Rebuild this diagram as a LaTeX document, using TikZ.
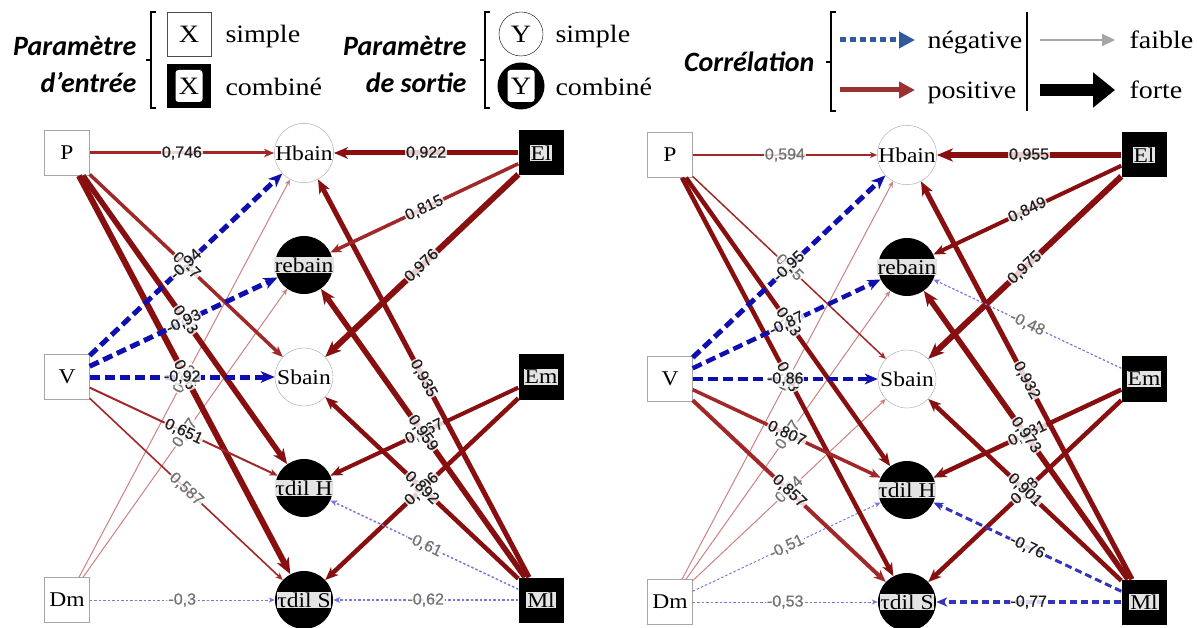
\documentclass[tikz,border=0pt]{standalone}
\usepackage{fontspec}
\setmainfont{Liberation Serif}[FakeStretch=1.12]
\newfontfamily\ttlfamily{Carlito}
\newfontfamily\labfamily{Liberation Sans}[FakeBold=0.6]
\usetikzlibrary{arrows.meta}
\pgfdeclarelayer{fg}
\pgfsetlayers{main,fg}
\definecolor{dred}{RGB}{135,15,15}
\definecolor{mred}{RGB}{160,40,40}
\definecolor{wred}{RGB}{205,130,130}
\definecolor{dblue}{RGB}{15,15,175}
\definecolor{wblue}{RGB}{120,120,225}
\definecolor{lgblue}{RGB}{50,90,155}
\definecolor{lgred}{RGB}{155,50,50}
\newcommand\nodefont{\fontsize{21}{23}\selectfont}
\newcommand\legfont{\fontsize{25}{28}\selectfont}
\newcommand\titfont{\ttlfamily\bfseries\itshape\fontsize{28}{30}\selectfont}
\newcommand\lblfont{\labfamily\fontsize{16}{16}\selectfont}
\tikzset{
 inb/.style={draw=gray!70, fill=white, minimum size=45pt, inner sep=0pt, font=\nodefont},
 inc/.style={fill=black, minimum size=45pt, inner sep=0pt},
 outs/.style={circle, draw=gray!70, fill=white, minimum size=58pt, inner sep=0pt, font=\nodefont},
 outc/.style={circle, fill=black, minimum size=58pt, inner sep=0pt},
 cl/.style={fill=gray!22, inner sep=0.8pt, font=\nodefont, text=black},
 arw/.style={-{Stealth[length=4pt 2, width=3.5pt 1.6, inset=1pt 0.6]}},
 pw/.style 2 args={draw=#2, line width=#1, arw},
 ps/.style={pw={#1}{dred}},
 pm/.style={pw={#1}{mred}},
 pl/.style={pw={#1}{wred}},
 nt/.style={draw=dblue, line width=#1, dash pattern=on 10pt off 5pt, arw},
 nm/.style={draw=dblue!85, line width=#1, dash pattern=on 7pt off 4pt, arw},
 nl/.style={draw=wblue, line width=#1, dash pattern=on 2.5pt off 2pt, arw},
 lbl/.style={sloped, fill=white, fill opacity=.8, text opacity=1, inner sep=1pt, font=\lblfont, text=black!88},
 wk/.style={text=black!55},
 ttl/.style={font=\titfont},
 leg/.style={font=\legfont},
 brk/.style={line width=1.1pt, black},
}
\newcommand\E[5]{%
  \draw[#1] (#2) -- (#3);
  \begin{pgfonlayer}{fg}\path (#2) -- node[lbl,#5]{#4} (#3);\end{pgfonlayer}}
\newcommand\mkpanel[1]{%
  \node[inb] (#1P) at (67,153) {P};
  \node[inb] (#1V) at (67,377) {V};
  \node[inb] (#1Dm) at (67,600) {Dm};
  \node[outs] (#1H) at (304,153) {Hbain};
  \node[outc, label={[cl]center:rebain}] (#1r) at (304,265) {};
  \node[outs] (#1S) at (304,377) {Sbain};
  \node[outc, label={[cl]center:τdil H}] (#1tH) at (304,488) {};
  \node[outc, label={[cl]center:τdil S}] (#1tS) at (304,600) {};
  \node[inc, label={[cl]center:El}] (#1El) at (541,153) {};
  \node[inc, label={[cl]center:Em}] (#1Em) at (541,377) {};
  \node[inc, label={[cl]center:Ml}] (#1Ml) at (541,600) {};
}
\begin{document}
\begin{tikzpicture}[x=1pt,y=-1pt]
\useasboundingbox (0,0) rectangle (1197,628);
% ---------- legend ----------
\node[ttl, anchor=base east] (t1a) at (140,56) {Paramètre};
\node[ttl, anchor=base east] (t1b) at (140,93) {d’entrée};
\draw[brk] (156,12) -- (151,12) -- (151,108) -- (156,108) (151,60) -- (146,60);
\node[inb, minimum size=44pt, draw=black!70, font=\legfont] (lgx1) at (189,34) {X};
\node[inc, minimum size=44pt, label={[fill=white, rounded corners=3pt, minimum width=27pt, minimum height=32pt, inner sep=0pt, font=\legfont]center:X}] (lgx2) at (189,86) {};
\node[leg, anchor=base west] (l1s) at (222,43) {simple};
\node[leg, anchor=base west] (l1c) at (222,96) {combiné};

\node[ttl, anchor=base east] (t2a) at (470,56) {Paramètre};
\node[ttl, anchor=base east] (t2b) at (470,93) {de sortie};
\draw[brk] (490,12) -- (485,12) -- (485,108) -- (490,108) (485,60) -- (480,60);
\node[circle, draw=black, minimum size=44pt, inner sep=0pt, font=\legfont] (lgy1) at (521,34) {Y};
\node[circle, fill=black, minimum size=47pt, inner sep=0pt, label={[fill=white, rounded corners=3pt, minimum width=27pt, minimum height=32pt, inner sep=0pt, font=\legfont]center:Y}] (lgy2) at (521,86) {};
\node[leg, anchor=base west] (l2s) at (552,43) {simple};
\node[leg, anchor=base west] (l2c) at (552,96) {combiné};

\node[ttl, anchor=base east] (t3) at (818,72) {Corrélation};
\draw[brk] (836,12) -- (831,12) -- (831,111) -- (836,111) (831,62) -- (826,62);
\coordinate (na1) at (840,40); \coordinate (na2) at (915,40);
\draw[draw=lgblue, line width=5pt, dash pattern=on 6pt off 4pt, -{Triangle[length=16pt,width=16pt]}] (na1) -- (na2);
\node[leg, anchor=base west] (l3n) at (924,49) {négative};
\coordinate (pa1) at (840,90); \coordinate (pa2) at (915,90);
\draw[draw=lgred, line width=5pt, -{Triangle[length=16pt,width=16pt]}] (pa1) -- (pa2);
\node[leg, anchor=base west] (l3p) at (924,99) {positive};
\coordinate (s1) at (1027,12); \coordinate (s2) at (1027,111);
\draw[brk] (s1) -- (s2);
\coordinate (fa1) at (1040,40); \coordinate (fa2) at (1115,40);
\draw[draw=gray!70, line width=2pt, -{Triangle[length=13pt,width=12pt]}] (fa1) -- (fa2);
\node[leg, anchor=base west] (l3f) at (1126,49) {faible};
\coordinate (fo1) at (1040,90); \coordinate (fo2) at (1115,90);
\draw[draw=black, line width=12pt, -{Triangle[length=22pt,width=34pt]}] (fo1) -- (fo2);
\node[leg, anchor=base west] (l3o) at (1126,99) {forte};

% ---------- left panel ----------
\mkpanel{L}
\E{pl=1}{LDm}{LH}{0,55}{wk}
\E{pl=1}{LDm}{Lr}{0,57}{wk}
\E{nl=1}{LDm}{LtS}{-0,3}{wk}
\E{pm=3.5}{LP}{LS}{0,87}{}
\E{ps=5.5}{LP}{LtH}{0,93}{}
\E{ps=6}{LP}{LtS}{0,96}{}
\E{ps=4}{LEm}{LtH}{0,867}{}
\E{ps=4.5}{LEm}{LtS}{0,906}{}
\E{pm=2}{LV}{LtH}{0,651}{}
\E{pm=1.6}{LV}{LtS}{0,587}{wk}
\E{nt=5}{LV}{LH}{-0,94}{}
\E{nt=5}{LV}{Lr}{-0,93}{}
\E{nt=5}{LV}{LS}{-0,92}{}
\E{ps=5}{LMl}{LH}{0,935}{}
\E{ps=5.5}{LMl}{Lr}{0,959}{}
\E{ps=4.5}{LMl}{LS}{0,892}{}
\E{pm=3}{LP}{LH}{0,746}{}
\E{ps=5}{LEl}{LH}{0,922}{}
\E{pm=3.5}{LEl}{Lr}{0,815}{}
\E{ps=6}{LEl}{LS}{0,976}{}
\E{nl=1.5}{LMl}{LtH}{-0,61}{wk}
\E{nl=1.5}{LMl}{LtS}{-0,62}{wk}

% ---------- right panel ----------
\begin{scope}[shift={(603,2)}]
\mkpanel{R}
\end{scope}
\E{pl=1}{RDm}{RH}{0,5}{wk}
\E{pl=1}{RDm}{Rr}{0,57}{wk}
\E{pl=1}{RDm}{RS}{0,54}{wk}
\E{nl=1}{RDm}{RtH}{-0,51}{wk}
\E{nl=1}{RDm}{RtS}{-0,53}{wk}
\E{pm=1.5}{RP}{RS}{0,55}{wk}
\E{ps=4.5}{RP}{RtH}{0,83}{}
\E{ps=4.5}{RP}{RtS}{0,88}{}
\E{ps=4.5}{REm}{RtH}{0,981}{}
\E{ps=4.5}{REm}{RtS}{0,98}{}
\E{pm=3.5}{RV}{RtH}{0,807}{}
\E{pm=4}{RV}{RtS}{0,857}{}
\E{nt=5}{RV}{RH}{-0,95}{}
\E{nt=4.5}{RV}{Rr}{-0,87}{}
\E{nt=4.5}{RV}{RS}{-0,86}{}
\E{ps=5}{RMl}{RH}{0,932}{}
\E{ps=5.5}{RMl}{Rr}{0,973}{}
\E{ps=4.5}{RMl}{RS}{0,901}{}
\E{pm=1.5}{RP}{RH}{0,594}{wk}
\E{ps=6}{REl}{RH}{0,955}{}
\E{ps=4}{REl}{Rr}{0,849}{}
\E{ps=6}{REl}{RS}{0,975}{}
\E{nl=1.2}{REm}{Rr}{-0,48}{wk}
\E{nm=3}{RMl}{RtH}{-0,76}{}
\E{nm=3.5}{RMl}{RtS}{-0,77}{}
\end{tikzpicture}
\end{document}
